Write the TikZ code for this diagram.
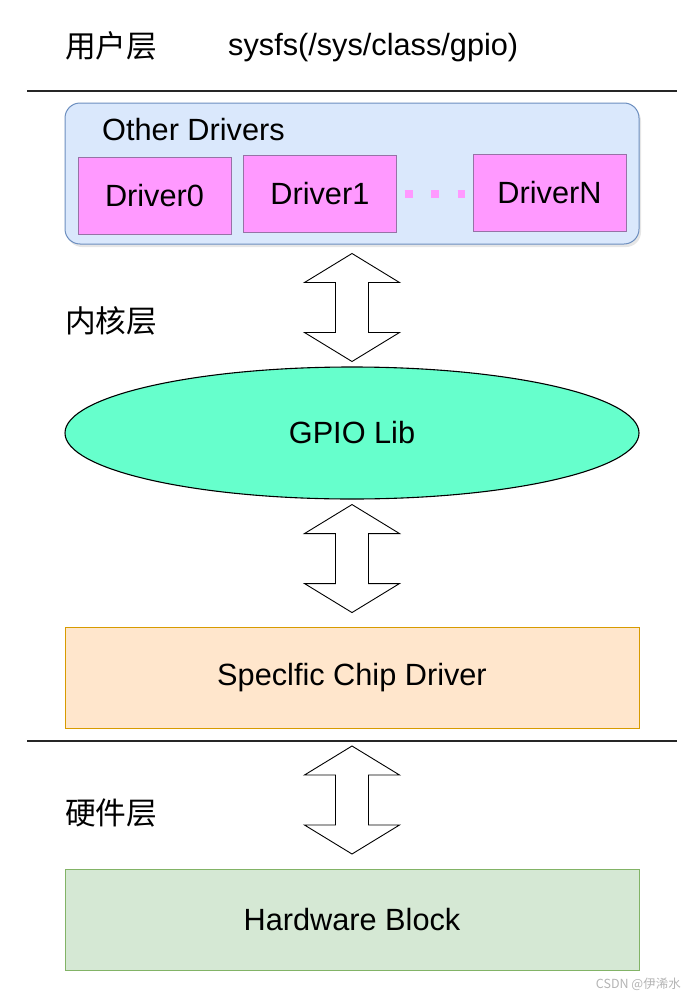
\documentclass[tikz,border=0pt]{standalone}
\usepackage{fontspec}
\setmainfont{Liberation Sans}
\newfontfamily\cjk{Noto Sans CJK SC}
\usepackage{tikz}
\usetikzlibrary{positioning,calc,shapes.geometric,shadows}
\definecolor{GPIOBlue}{HTML}{DAE8FC}
\definecolor{GPIOBlueLine}{HTML}{6C8EBF}
\definecolor{GPIOPink}{HTML}{FF99FF}
\definecolor{GPIOPinkLine}{HTML}{9673A6}
\definecolor{GPIOMint}{HTML}{66FFCC}
\definecolor{GPIOPeach}{HTML}{FFE6CC}
\definecolor{GPIOPeachLine}{HTML}{D79B00}
\definecolor{GPIOGreen}{HTML}{D5E8D4}
\definecolor{GPIOGreenLine}{HTML}{82B366}
\definecolor{GPIOMark}{HTML}{B4B4B4}
\newcommand{\bigtxt}{\fontsize{30.7}{36}\selectfont}

\begin{document}
\begin{tikzpicture}[
  x=1pt,y=-1pt,
  layer/.style={anchor=west,inner sep=0pt,font=\bigtxt\cjk},
  plain/.style={inner sep=0pt,font=\bigtxt},
  group/.style={draw=GPIOBlueLine,fill=GPIOBlue,line width=1pt,rounded corners=15pt,minimum width=574pt,minimum height=141pt,
    drop shadow={opacity=0.2,shadow xshift=2pt,shadow yshift=-3pt}},
  drvbox/.style={draw=GPIOPinkLine,fill=GPIOPink,minimum width=153pt,minimum height=77pt,font=\bigtxt,inner sep=0pt},
  block/.style={minimum width=574pt,minimum height=101pt,line width=1pt,font=\bigtxt,inner sep=0pt},
  sep/.style={line width=1.3pt,black!85},
  ellipsis/.style={GPIOPink,line width=8pt,dash pattern=on 8pt off 18.5pt,shorten <=8pt,shorten >=8pt},
  updown/.pic={\draw[fill=white,line width=0.9pt,line join=miter]
    (0,0) -- (47.5,29) -- (16.5,29) -- (16.5,79) -- (47.5,79) -- (0,108)
    -- (-47.5,79) -- (-16.5,79) -- (-16.5,29) -- (-47.5,29) -- cycle;},
]
\useasboundingbox (0,0) rectangle (686,998);
% user space
\node[layer] (user) at (65,46) {用户层};
\node[plain,anchor=base west] (sysfs) at (228,56) {sysfs(/sys/class/gpio)};
\coordinate (s1l) at (27,91);
\coordinate (s1r) at (677,91);
\draw[sep] (s1l) -- (s1r);
% kernel space
\node[group] (others) at (352,173.5) {};
\node[plain,anchor=base west] (otherlbl) at (102,140) {Other Drivers};
\node[drvbox] (drv0) at (154.5,195.5) {Driver0};
\node[drvbox,right=12pt of drv0,yshift=1.5pt] (drv1) {Driver1};
\node[drvbox] (drvn) at (549.5,192.5) {DriverN};
\draw[ellipsis] (drv1.east) -- (drv1.east -| drvn.west);
\node[layer] (kernel) at (65,321) {内核层};
\node[ellipse,draw,line width=1.1pt,fill=GPIOMint,minimum width=574pt,minimum height=132pt,font=\bigtxt,inner sep=0pt] (gpio) at (352,433) {GPIO Lib};
\node[block,draw=GPIOPeachLine,fill=GPIOPeach] (chip) at (352,677.5) {Speclfic Chip Driver};
\coordinate (s2l) at (27,741);
\coordinate (s2r) at (677,741);
\draw[sep] (s2l) -- (s2r);
% hardware
\node[layer] (hw) at (65,813) {硬件层};
\node[block,draw=GPIOGreenLine,fill=GPIOGreen] (block) at (352,919.5) {Hardware Block};
% big two-way arrows
\pic at ($(others.south)+(0,9)$) {updown};
\pic at ($(gpio.south)+(0,5)$) {updown};
\pic at ($(s2l)!0.5!(s2r)+(0,5)$) {updown};
\node[anchor=east,inner sep=0pt,text=GPIOMark,font=\fontsize{12.5}{14}\selectfont\cjk] (mark) at (681,984) {CSDN @伊浠水};
\end{tikzpicture}
\end{document}
